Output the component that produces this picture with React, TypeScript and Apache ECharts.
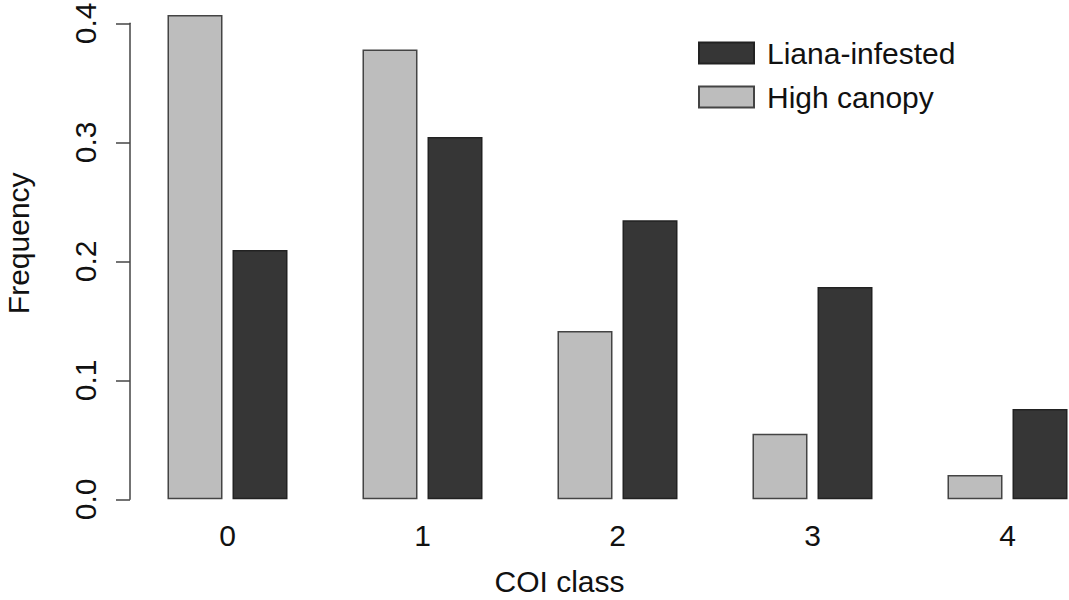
import React, { useEffect, useRef } from "react";
import * as echarts from "echarts";

const categories = ["0", "1", "2", "3", "4"];
const highCanopy = [0.407, 0.378, 0.1415, 0.055, 0.0205];
const lianaInfested = [0.2095, 0.3045, 0.2345, 0.1785, 0.0758];
const yTicks = { min: 0, max: 0.4, interval: 0.1 };

const FONT = "Liberation Sans, Arial, Helvetica, sans-serif";

export default function App() {
  const ref = useRef<HTMLDivElement>(null);
  useEffect(() => {
    if (!ref.current) return;
    const chart = echarts.init(ref.current, undefined, { renderer: "svg" });
    chart.setOption({
      animation: false,
      backgroundColor: "#ffffff",
      grid: {
        left: 130,
        top: 23.3,
        width: 975,
        height: 476,
        outerBoundsMode: "none",
        containLabel: false,
      },
      legend: {
        orient: "vertical",
        left: 698,
        top: 38,
        padding: 0,
        itemWidth: 55,
        itemHeight: 21,
        itemGap: 14,
        icon: "rect",
        data: ["Liana-infested", "High canopy"],
        textStyle: {
          fontFamily: FONT,
          fontSize: 30,
          color: "#111",
          padding: [0, 0, 0, 8],
        },
      },
      xAxis: {
        type: "category",
        data: categories,
        axisLine: { show: false },
        axisTick: { show: false },
        axisLabel: {
          fontFamily: FONT,
          fontSize: 30,
          color: "#111",
          margin: 21,
        },
        name: "COI class",
        nameLocation: "middle",
        nameGap: 67,
        nameTextStyle: {
          fontFamily: FONT,
          fontSize: 30,
          color: "#111",
          padding: [0, 116, 0, 0],
        },
      },
      yAxis: {
        type: "value",
        min: yTicks.min,
        max: yTicks.max,
        interval: yTicks.interval,
        splitLine: { show: false },
        axisLine: { show: true, lineStyle: { color: "#444", width: 1.5 } },
        axisTick: {
          show: true,
          length: 14,
          lineStyle: { color: "#444", width: 1.5 },
        },
        axisLabel: {
          rotate: 90,
          margin: 30,
          fontFamily: FONT,
          fontSize: 30,
          color: "#111",
          formatter: (v: number) => v.toFixed(1),
        },
        name: "Frequency",
        nameLocation: "middle",
        nameRotate: 90,
        nameGap: 97,
        nameTextStyle: {
          fontFamily: FONT,
          fontSize: 30,
          color: "#111",
          padding: [0, 0, 0, 36],
        },
      },
      series: [
        {
          name: "High canopy",
          type: "bar",
          data: highCanopy,
          barWidth: 55,
          barGap: "18.2%",
          clip: false,
          itemStyle: { color: "#bdbdbd", borderColor: "#444", borderWidth: 1.5 },
        },
        {
          name: "Liana-infested",
          type: "bar",
          data: lianaInfested,
          barWidth: 55,
          barGap: "18.2%",
          clip: false,
          itemStyle: { color: "#363636", borderColor: "#222", borderWidth: 1.5 },
        },
      ],
    });
    return () => chart.dispose();
  }, []);
  return (
    <div
      ref={ref}
      style={{ position: "fixed", left: 0, top: 0, width: 1069, height: 600 }}
    />
  );
}
